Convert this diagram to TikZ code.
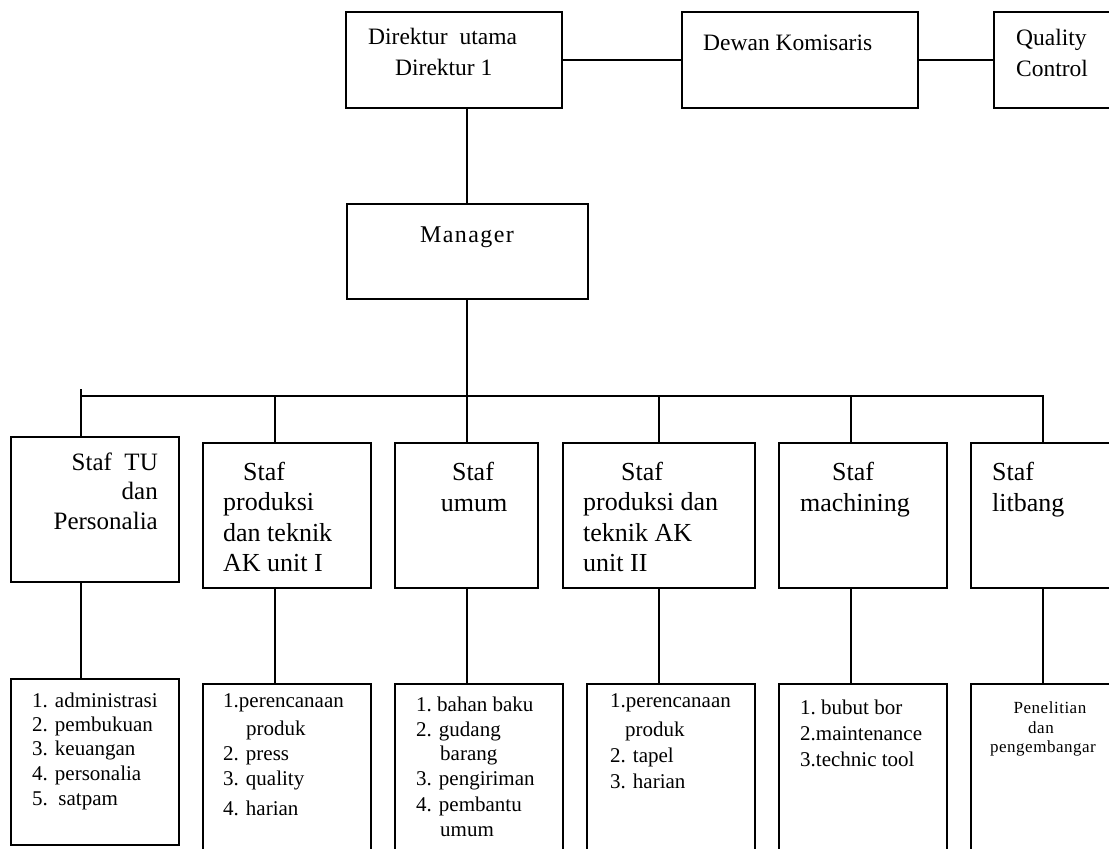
\documentclass[tikz,border=0pt]{standalone}
\usepackage{fontspec}
\setmainfont{Liberation Serif}
\newcommand\ftop{\fontsize{23.5}{27}\selectfont}
\newcommand\fmgr{\fontsize{24}{28}\selectfont\addfontfeature{LetterSpace=6}}
\newcommand\fstaf{\fontsize{26}{30}\selectfont}
\newcommand\ftu{\fontsize{25}{29}\selectfont}
\newcommand\flist{\fontsize{21}{24}\selectfont}
\newcommand\fsmall{\fontsize{17}{20}\selectfont\addfontfeature{LetterSpace=3}}
\begin{document}
\begin{tikzpicture}[x=1pt,y=-1pt,
  box/.style={draw,line width=1.8pt,inner sep=0pt,outer sep=0pt,anchor=north west},
  conn/.style={line width=1.8pt},
  tl/.style={anchor=base west,inner sep=0pt},
  tr/.style={anchor=base east,inner sep=0pt},
  tc/.style={anchor=base,inner sep=0pt}]
\useasboundingbox (0,0) rectangle (1109,849);
\clip (0,0) rectangle (1109,849);
% top row
\node[box,minimum width=216pt,minimum height=96pt] (dir) at (346,12) {};
\node[box,minimum width=236pt,minimum height=96pt] (dew) at (682,12) {};
\node[box,minimum width=130pt,minimum height=96pt] (qc) at (994,12) {};
\node[box,minimum width=241pt,minimum height=95pt] (mgr) at (347,204) {};
% staf boxes
\node[box,minimum width=168pt,minimum height=145pt] (s1) at (11,437) {};
\node[box,minimum width=168pt,minimum height=145pt] (s2) at (203,443) {};
\node[box,minimum width=143pt,minimum height=145pt] (s3) at (395,443) {};
\node[box,minimum width=192pt,minimum height=145pt] (s4) at (563,443) {};
\node[box,minimum width=168pt,minimum height=145pt] (s5) at (779,443) {};
\node[box,minimum width=150pt,minimum height=145pt] (s6) at (971,443) {};
% sub boxes
\node[box,minimum width=168pt,minimum height=166pt] (b1) at (11,679) {};
\node[box,minimum width=168pt,minimum height=190pt] (b2) at (203,684) {};
\node[box,minimum width=168pt,minimum height=190pt] (b3) at (395,684) {};
\node[box,minimum width=168pt,minimum height=190pt] (b4) at (587,684) {};
\node[box,minimum width=168pt,minimum height=190pt] (b5) at (779,684) {};
\node[box,minimum width=150pt,minimum height=190pt] (b6) at (971,684) {};
% connectors
\draw[conn] (dir.east) -- (dew.west);
\draw[conn] (dew.east) -- (qc.west);
\coordinate (j1t) at (81,389);
\coordinate (j1) at (81,396);
\coordinate (j2) at (275,396);
\coordinate (j3) at (467,396);
\coordinate (j4) at (659,396);
\coordinate (j5) at (851,396);
\coordinate (j6) at (1043,396);
\draw[conn] (j3 |- dir.south) -- (j3 |- mgr.north);
\draw[conn] (j3 |- mgr.south) -- (j3);
\draw[conn] (j1) -- (j6) -- (j6 |- s6.north);
\draw[conn] (j1t) -- (j1 |- s1.north);
\foreach \i in {2,3,4,5} \draw[conn] (j\i) -- (j\i |- s\i.north);
\foreach \i in {1,...,6} \draw[conn] (j\i |- s\i.south) -- (j\i |- b\i.north);
% top texts
\node[tl,font=\ftop] (dirt1) at (368,44) {Direktur\ \ utama};
\node[tl,font=\ftop] (dirt2) at (395,75) {Direktur 1};
\node[tl,font=\ftop] (dewt) at (703,50) {Dewan Komisaris};
\node[tl,font=\ftop] (qct1) at (1016,45) {Quality};
\node[tl,font=\ftop] (qct2) at (1016,76) {Control};
\node[tc,font=\fmgr] (mgrt) at (467,242) {Manager};
% staf texts
\node[tr,font=\ftu] (s1t1) at (158,470) {Staf\ \ TU};
\node[tr,font=\ftu] (s1t2) at (158,499) {dan};
\node[tr,font=\ftu] (s1t3) at (158,529) {Personalia};
\node[tl,font=\fstaf] (s2t1) at (243,480) {Staf};
\node[tl,font=\fstaf] (s2t2) at (223,510.5) {produksi};
\node[tl,font=\fstaf] (s2t3) at (223,541) {dan teknik};
\node[tl,font=\fstaf] (s2t4) at (223,571.5) {AK unit I};
\node[tc,font=\fstaf] (s3t1) at (473,480) {Staf};
\node[tc,font=\fstaf] (s3t2) at (474,511) {umum};
\node[tl,font=\fstaf] (s4t1) at (621,480) {Staf};
\node[tl,font=\fstaf] (s4t2) at (583,510.5) {produksi dan};
\node[tl,font=\fstaf] (s4t3) at (583,541) {teknik AK};
\node[tl,font=\fstaf] (s4t4) at (583,571.5) {unit II};
\node[tc,font=\fstaf] (s5t1) at (853,480) {Staf};
\node[tc,font=\fstaf] (s5t2) at (855,511) {machining};
\node[tl,font=\fstaf] (s6t1) at (992,480) {Staf};
\node[tl,font=\fstaf] (s6t2) at (992,511) {litbang};
% list texts
\node[tl,font=\flist] (b1t1) at (32,707) {1. administrasi};
\node[tl,font=\flist] (b1t2) at (32,731.5) {2. pembukuan};
\node[tl,font=\flist] (b1t3) at (32,755) {3. keuangan};
\node[tl,font=\flist] (b1t4) at (32,780) {4. personalia};
\node[tl,font=\flist] (b1t5) at (32,805) {5.\ \ satpam};
\node[tl,font=\flist] (b2t1) at (223,707) {1.perencanaan};
\node[tl,font=\flist] (b2t2) at (246,735) {produk};
\node[tl,font=\flist] (b2t3) at (223,760) {2. press};
\node[tl,font=\flist] (b2t4) at (223,785) {3. quality};
\node[tl,font=\flist] (b2t5) at (223,815) {4. harian};
\node[tl,font=\flist] (b3t1) at (416,711) {1.\ bahan baku};
\node[tl,font=\flist] (b3t2) at (416,736) {2. gudang};
\node[tl,font=\flist] (b3t3) at (440,760) {barang};
\node[tl,font=\flist] (b3t4) at (416,785) {3. pengiriman};
\node[tl,font=\flist] (b3t5) at (416,811) {4. pembantu};
\node[tl,font=\flist] (b3t6) at (440,836) {umum};
\node[tl,font=\flist] (b4t1) at (610,707) {1.perencanaan};
\node[tl,font=\flist] (b4t2) at (625,736) {produk};
\node[tl,font=\flist] (b4t3) at (610,762) {2. tapel};
\node[tl,font=\flist] (b4t4) at (610,788) {3. harian};
\node[tl,font=\flist] (b5t1) at (800,714) {1.\ bubut bor};
\node[tl,font=\flist] (b5t2) at (800,740) {2.maintenance};
\node[tl,font=\flist] (b5t3) at (800,766) {3.technic tool};
\node[tc,font=\fsmall] (b6t1) at (1050,713) {Penelitian};
\node[tc,font=\fsmall] (b6t2) at (1041,733) {dan};
\node[tc,font=\fsmall] (b6t3) at (1043,752) {pengembangar};
\end{tikzpicture}
\end{document}
